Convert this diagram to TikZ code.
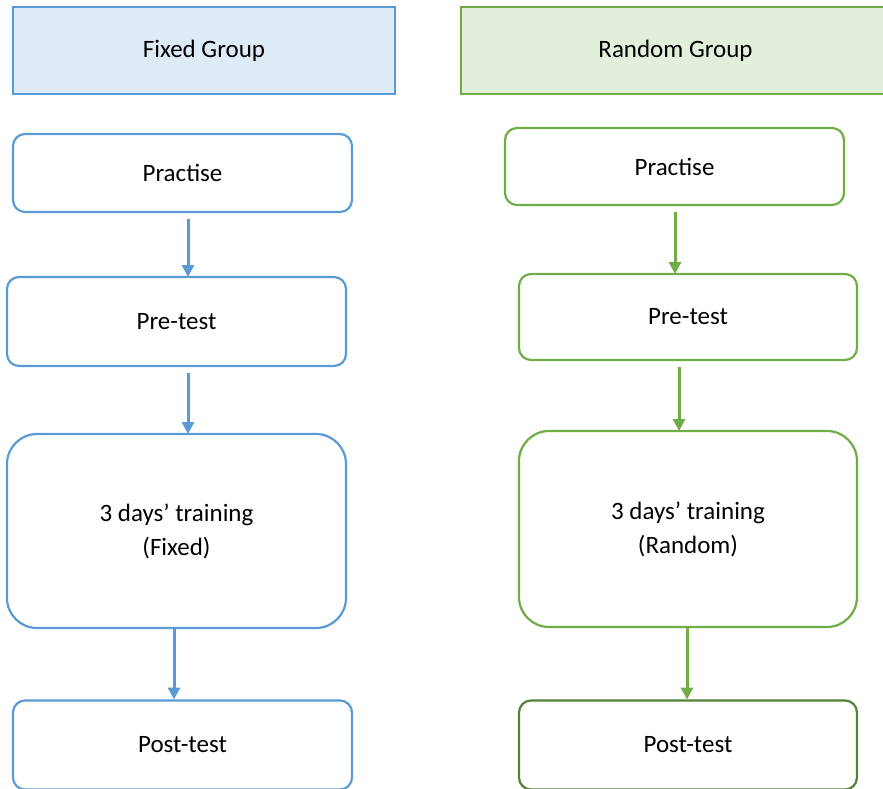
\documentclass[tikz,border=0pt]{standalone}
\usepackage{fontspec}
\setmainfont{Carlito}
\usetikzlibrary{arrows.meta}
\definecolor{fixedline}{HTML}{5B9BD5}
\definecolor{fixedfill}{HTML}{DDEBF7}
\definecolor{randline}{HTML}{70AD47}
\definecolor{randfill}{HTML}{E2EFDA}
\definecolor{randdark}{HTML}{548235}
\begin{document}
\begin{tikzpicture}[x=1pt,y=-1pt,
  every node/.style={inner sep=0pt,outer sep=0pt,font=\fontsize{25}{34}\selectfont,align=center},
  header/.style={draw,line width=2.2pt},
  stepbox/.style={draw,line width=2.2pt,rounded corners=12pt,minimum width=339pt},
  bigbox/.style={draw,line width=2.2pt,rounded corners=30pt,minimum width=339pt},
  blue/.style={draw=fixedline},
  green/.style={draw=randline},
  barr/.style={draw=fixedline,line width=3pt,-{Triangle[width=12pt,length=12pt]}},
  garr/.style={draw=randline,line width=3pt,-{Triangle[width=12pt,length=12pt]}}]
\useasboundingbox (0,0) rectangle (883,789);
\clip (0,0) rectangle (883,789);

% Fixed group column
\node[header,draw=fixedline,fill=fixedfill,minimum width=382pt,minimum height=87pt] (fg) at (204,50.5) {Fixed Group};
\node[stepbox,blue,minimum height=78pt] (p1) at (182.5,173) {Practise};
\node[stepbox,blue,minimum height=89pt] (t1) at (176.5,321.5) {Pre-test};
\node[bigbox,blue,minimum height=194pt] (tr1) at (176.5,531) {3 days’ training\\(Fixed)};
\node[stepbox,blue,minimum height=89pt] (po1) at (182.5,745) {Post-test};

% Random group column
\node[header,draw=randline,fill=randfill,minimum width=429pt,minimum height=87pt] (rg) at (675.5,50.5) {Random Group};
\node[stepbox,green,minimum height=77pt] (p2) at (674.5,166.5) {Practise};
\node[stepbox,green,minimum width=338pt,minimum height=86pt] (t2) at (688,317) {Pre-test};
\node[bigbox,green,minimum width=338pt,minimum height=196pt] (tr2) at (688,529) {3 days’ training\\(Random)};
\node[stepbox,draw=randdark,minimum width=338pt,minimum height=89pt] (po2) at (688,745) {Post-test};

% Connectors
\draw[barr] ([xshift=5.5pt,yshift=-7pt]p1.south) -- ([xshift=11.5pt]t1.north);
\draw[barr] ([xshift=11.5pt,yshift=-7pt]t1.south) -- ([xshift=11.5pt]tr1.north);
\draw[barr] ([xshift=-2.5pt]tr1.south) -- ([xshift=-8.5pt,yshift=1pt]po1.north);

\draw[garr] ([xshift=0.5pt,yshift=-7pt]p2.south) -- ([xshift=-13pt]t2.north);
\draw[garr] ([xshift=-9pt,yshift=-7pt]t2.south) -- ([xshift=-9pt]tr2.north);
\draw[garr] ([xshift=-1pt]tr2.south) -- ([xshift=-1pt,yshift=1pt]po2.north);
\end{tikzpicture}
\end{document}
